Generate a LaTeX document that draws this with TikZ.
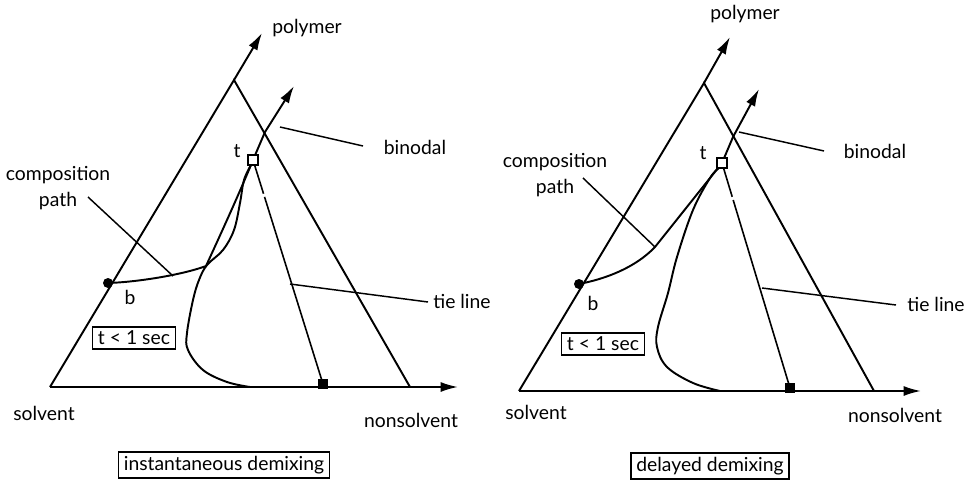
\documentclass[tikz,border=0pt]{standalone}
\usepackage{fontspec}
\setmainfont{Lato}
\usetikzlibrary{arrows.meta}
\begin{document}
\begin{tikzpicture}[x=0.75pt,y=-0.75pt,
  ax/.style={line width=1.45pt},
  arr/.style={ax,-{Latex[length=13pt,width=7.5pt]}},
  lead/.style={line width=1.1pt},
  lbl/.style={font=\fontsize{14.5}{20}\selectfont,inner sep=1pt},
  boxed/.style={lbl,draw,line width=1.1pt,inner xsep=4pt,inner ysep=3pt},
  opensq/.style={draw,line width=1.5pt,fill=white,minimum size=7pt,inner sep=0pt},
  fullsq/.style={fill=black,minimum size=7.5pt,inner sep=0pt},
  bdot/.style={circle,fill=black,minimum size=7.5pt,inner sep=0pt},
  tie/.style={line width=1.2pt,dash pattern=on 2pt off 2.5pt on 22pt off 2.5pt on 300pt off 1pt},
]
\useasboundingbox (0,0) rectangle (972,485);

% ---------------- left panel ----------------
\coordinate (S1) at (50,387);
\coordinate (P1) at (234,80);
\coordinate (N1) at (410,387);
\coordinate (PA1) at (262,33);
\coordinate (NA1) at (458,387);
\coordinate (X1) at (265,132);
\coordinate (BA1) at (294,86);
\coordinate (t1) at (253,160);
\coordinate (q1) at (323,384);
\coordinate (b1) at (108,283);
\coordinate (J1) at (206,266);

\draw[ax] (N1) -- (P1) -- (S1);
\draw[arr] (S1) -- (NA1);
\draw[arr] (P1) -- (PA1);
\draw[arr] (t1) -- (X1) -- (BA1);
\draw[ax] (b1) .. controls (140,282) and (185,274) .. (J1) .. controls (218,240) and (240,192) .. (t1);
\draw[ax] plot[smooth,tension=0.6] coordinates {(251,165) (244,180) (240,203) (234,230) (223,250) (207,265) (199,280) (193,300) (187,333) (188,350) (203,370) (227,382) (250,387)};
\draw[tie] (t1) -- (q1);

\coordinate (cl1a) at (88,197);
\coordinate (cl1b) at (173,276);
\draw[lead] (cl1a) -- (cl1b);
\coordinate (bl1a) at (280,127);
\coordinate (bl1b) at (363,146);
\draw[lead] (bl1a) -- (bl1b);
\coordinate (tl1a) at (290,284);
\coordinate (tl1b) at (428,302);
\draw[lead] (tl1a) -- (tl1b);

\node[opensq] (T1) at (t1) {};
\node[fullsq] (Q1) at (q1) {};
\node[bdot] (B1) at (b1) {};

\node[lbl] (poly1) at (307,28) {polymer};
\node[lbl] (bin1) at (415,147) {binodal};
\node[lbl,align=center] (comp1) at (58,188) {composition\\path};
\node[lbl] (tie1) at (462,301) {tie line};
\node[lbl] (solv1) at (44,413) {solvent};
\node[lbl] (nons1) at (411,420) {nonsolvent};
\node[lbl] (tlab1) at (237,151) {t};
\node[lbl] (blab1) at (130,297) {b};
\node[boxed] (tbox1) at (134,338) {t < 1 sec};
\node[boxed] (inst) at (224,465) {instantaneous demixing};

% ---------------- right panel ----------------
\coordinate (S2) at (519,391);
\coordinate (P2) at (704,83);
\coordinate (N2) at (874,391);
\coordinate (PA2) at (730,37);
\coordinate (NA2) at (921,391);
\coordinate (X2) at (733,137);
\coordinate (BA2) at (759,89);
\coordinate (t2) at (722,163);
\coordinate (q2) at (790,388);
\coordinate (b2) at (579,284);
\coordinate (J2) at (655,247);

\draw[ax] (N2) -- (P2) -- (S2);
\draw[arr] (S2) -- (NA2);
\draw[arr] (P2) -- (PA2);
\draw[arr] (t2) -- (X2) -- (BA2);
\draw[ax] (b2) .. controls (605,279) and (635,268) .. (J2) -- (t2);
\draw[ax] plot[smooth,tension=0.6] coordinates {(719,168) (710,178) (693,210) (677,257) (668,293) (658,327) (657,347) (667,367) (693,383) (720,391)};
\draw[tie] (t2) -- (q2);

\coordinate (cl2a) at (583,178);
\coordinate (cl2b) at (655,247);
\draw[lead] (cl2a) -- (cl2b);
\coordinate (bl2a) at (739,132);
\coordinate (bl2b) at (824,151);
\draw[lead] (bl2a) -- (bl2b);
\coordinate (tl2a) at (762,288);
\coordinate (tl2b) at (896,305);
\draw[lead] (tl2a) -- (tl2b);

\node[opensq] (T2) at (t2) {};
\node[fullsq] (Q2) at (q2) {};
\node[bdot] (B2) at (b2) {};

\node[lbl] (poly2) at (745,14) {polymer};
\node[lbl] (bin2) at (875,151) {binodal};
\node[lbl,align=center] (comp2) at (555,175) {composition\\path};
\node[lbl] (tie2) at (936,304) {tie line};
\node[lbl] (solv2) at (536,412) {solvent};
\node[lbl] (nons2) at (895,415) {nonsolvent};
\node[lbl] (tlab2) at (703,153) {t};
\node[lbl] (blab2) at (593,303) {b};
\node[boxed] (tbox2) at (603,344) {t < 1 sec};
\node[boxed] (delay) at (710,466) {delayed demixing};
\end{tikzpicture}
\end{document}
